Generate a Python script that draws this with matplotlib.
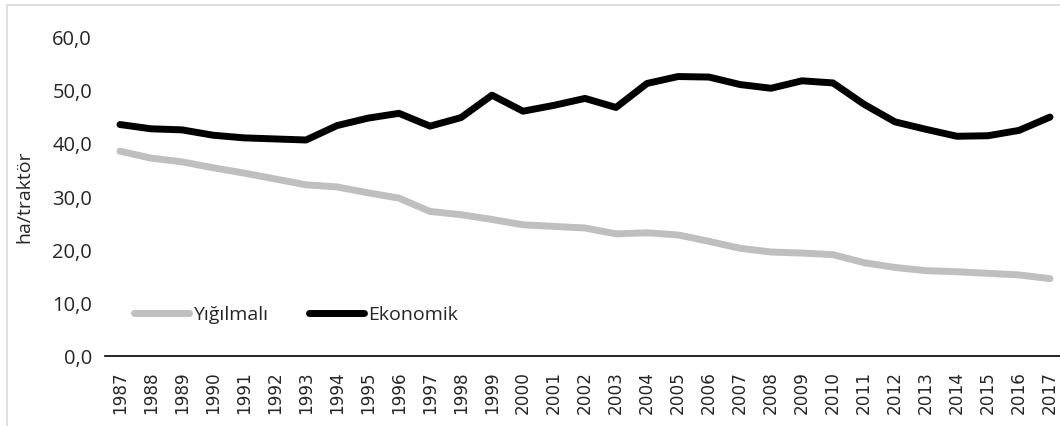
import matplotlib.pyplot as plt
from matplotlib.patches import Rectangle
from matplotlib.ticker import FuncFormatter

plt.rcParams['font.family'] = ['Open Sans', 'DejaVu Sans']

# Yıllara göre traktör başına düşen alan (ha/traktör)
years = list(range(1987, 2018))
yigilmali = [38.4, 37.1, 36.4, 35.3, 34.3, 33.2, 32.1, 31.7, 30.6, 29.6,
             27.1, 26.5, 25.6, 24.6, 24.3, 24.0, 22.9, 23.1, 22.7, 21.5,
             20.2, 19.5, 19.3, 19.0, 17.5, 16.6, 16.0, 15.8, 15.5, 15.2,
             14.5]
ekonomik = [43.4, 42.6, 42.4, 41.4, 40.9, 40.7, 40.5, 43.2, 44.6, 45.5,
            43.1, 44.7, 48.9, 45.9, 47.0, 48.3, 46.6, 51.1, 52.4, 52.3,
            50.9, 50.2, 51.6, 51.2, 47.2, 43.9, 42.5, 41.2, 41.3, 42.3,
            44.8]

W, H = 1060, 427
fig = plt.figure(figsize=(W / 100, H / 100), dpi=100)

# dış çerçeve
fig.patches.append(Rectangle((7 / W, -0.1), 1.2, (H - 6) / H + 0.1,
                             transform=fig.transFigure, fill=False,
                             edgecolor='#D9D9D9', linewidth=1.2))

ax = fig.add_axes([104.5 / W, (H - 357) / H, 961 / W, 320 / H])

ax.plot(years, yigilmali, color='#BFBFBF', linewidth=5, solid_capstyle='round',
        solid_joinstyle='round', label='Yığılmalı')
ax.plot(years, ekonomik, color='#000000', linewidth=5, solid_capstyle='round',
        solid_joinstyle='round', label='Ekonomik')

ax.set_xlim(1986.5, 2017.5)
ax.set_ylim(0, 60)
ax.set_xticks(years)
ax.set_xticklabels([str(y) for y in years], rotation=90, fontsize=12.2,
                   family='DejaVu Sans')
ax.set_yticks(range(0, 61, 10))
ax.yaxis.set_major_formatter(FuncFormatter(lambda v, p: f'{v:.1f}'.replace('.', ',')))
ax.tick_params(axis='y', length=0, labelsize=14.5, pad=9, colors='#262626')
ax.tick_params(axis='x', length=0, pad=10, colors='#262626')

for side in ['top', 'right', 'left']:
    ax.spines[side].set_visible(False)
ax.spines['bottom'].set_color('#000000')
ax.spines['bottom'].set_linewidth(1.2)

ax.set_ylabel('ha/traktör', fontsize=14, color='#262626')
ax.yaxis.set_label_coords(-0.0744, 0.5)

ax.legend(loc='center left', bbox_to_anchor=(0.012, 0.13), ncol=2, frameon=False,
          fontsize=14, handlelength=2.85, handletextpad=0.2, columnspacing=2.1,
          labelcolor='#262626')

fig.savefig('out.png', dpi=100)
